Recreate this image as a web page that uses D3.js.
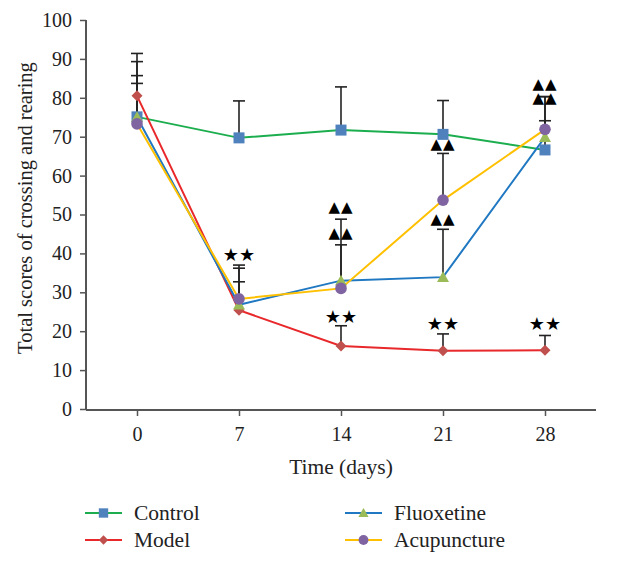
<!DOCTYPE html>
<html>
<head>
<meta charset="utf-8">
<script src="https://cdn.jsdelivr.net/npm/d3@7"></script>
<style>
  html, body { margin: 0; padding: 0; background: #fff; }
  svg text { font-family: "Liberation Serif", "Times New Roman", serif; }
</style>
</head>
<body>
<svg id="chart" width="627" height="565"></svg>
<script>
// ---- data ----
const days = [0, 7, 14, 21, 28];
const yTicks = [0, 10, 20, 30, 40, 50, 60, 70, 80, 90, 100];
const seriesNames = ["Control", "Model", "Fluoxetine", "Acupuncture"];
const controlMean = [75.1, 69.7, 71.7, 70.6, 66.6];
const controlSD   = [10.6, 9.5, 11.1, 8.7, 7.5];
const modelMean   = [80.5, 25.4, 16.2, 15.0, 15.1];
const modelSD     = [10.9, 7.3, 5.2, 4.3, 3.8];
const fluoMean    = [75.0, 26.8, 33.0, 33.9, 69.9];
const fluoSD      = [14.3, 9.4, 9.2, 12.3, 10.4];
const acuMean     = [73.3, 28.3, 31.0, 53.7, 71.9];
const acuSD       = [10.4, 8.7, 17.8, 12.0, 8.4];
// significance marks: [day, y-value, symbol]
const starMarks = [[7, 39.8, "★★"], [14, 23.9, "★★"], [21, 22.1, "★★"], [28, 22.1, "★★"]];
const triMarks = [[14, 51.9, "▲▲"], [14, 45.2, "▲▲"], [21, 68.1, "▲▲"], [21, 48.8, "▲▲"], [28, 83.6, "▲▲"], [28, 80.0, "▲▲"]];

(function () {
// ---- styles ----
const styles = {
  Control:     { line: "#1cae4e", fill: "#4f81bd", shape: "square" },
  Model:       { line: "#e8282b", fill: "#c0504d", shape: "diamond" },
  Fluoxetine:  { line: "#1f78c1", fill: "#9bbb59", shape: "triangle" },
  Acupuncture: { line: "#ffc000", fill: "#8064a2", shape: "circle" }
};
const series = [
  { name: "Control", mean: controlMean, sd: controlSD },
  { name: "Model", mean: modelMean, sd: modelSD },
  { name: "Fluoxetine", mean: fluoMean, sd: fluoSD },
  { name: "Acupuncture", mean: acuMean, sd: acuSD }
];

const svg = d3.select("#chart");
const pLeft = 86, pRight = 596, pTop = 20, pBottom = 409;
const x = d3.scaleLinear().domain([-3.5, 31.5]).range([pLeft, pRight]);
const y = d3.scaleLinear().domain([0, 100]).range([pBottom, pTop]);
const axisColor = "#555";

// axes
const xAxis = svg.append("g").attr("transform", `translate(0,${pBottom + 1})`)
  .call(d3.axisBottom(x).tickValues(days).tickSize(6).tickPadding(11).tickSizeOuter(0));
const yAxis = svg.append("g").attr("transform", `translate(${pLeft},0)`)
  .call(d3.axisLeft(y).tickValues(yTicks).tickSize(6).tickPadding(8).tickSizeOuter(0));
[xAxis, yAxis].forEach(g => {
  g.select(".domain").attr("stroke", axisColor).attr("stroke-width", 2);
  g.selectAll(".tick line").attr("stroke", axisColor).attr("stroke-width", 1.5);
  g.selectAll(".tick text").attr("fill", "#222").style("font-size", "20px")
    .style("font-family", "Liberation Serif, serif");
});
yAxis.select(".domain").attr("d", `M0,${pTop}V${pBottom + 1}`);
xAxis.select(".domain").attr("d", `M${pLeft},0H${pRight}`);

// axis titles
svg.append("text").attr("x", x(14)).attr("y", 474).attr("text-anchor", "middle")
  .attr("fill", "#222").style("font-size", "21.5px").text("Time (days)");
svg.append("text").attr("transform", `translate(32,${208}) rotate(-90)`)
  .attr("text-anchor", "middle").attr("fill", "#222").style("font-size", "20.5px")
  .text("Total scores of crossing and rearing");

// error bars
const capW = 6;
series.forEach(s => {
  const g = svg.append("g");
  days.forEach((d, i) => {
    if (!s.sd[i]) return;
    const x0 = x(d), yt = y(s.mean[i] + s.sd[i]), yb = y(s.mean[i]);
    g.append("line").attr("x1", x0).attr("x2", x0).attr("y1", yt).attr("y2", yb)
      .attr("stroke", "#222").attr("stroke-width", 1.6);
    g.append("line").attr("x1", x0 - capW).attr("x2", x0 + capW).attr("y1", yt).attr("y2", yt)
      .attr("stroke", "#222").attr("stroke-width", 1.6);
  });
});

// lines
const line = d3.line().x((d, i) => x(days[i])).y(d => y(d));
series.forEach(s => {
  svg.append("path").attr("d", line(s.mean)).attr("fill", "none")
    .attr("stroke", styles[s.name].line).attr("stroke-width", 2);
});

// markers
function marker(g, shape, fill, cx, cy, scale = 1) {
  if (shape === "square") {
    const h = 5.5 * scale;
    g.append("rect").attr("x", cx - h).attr("y", cy - h).attr("width", 2 * h).attr("height", 2 * h).attr("fill", fill);
  } else if (shape === "diamond") {
    const h = 5.5 * scale;
    g.append("path").attr("d", `M${cx},${cy - h}L${cx + h},${cy}L${cx},${cy + h}L${cx - h},${cy}Z`).attr("fill", fill);
  } else if (shape === "triangle") {
    const h = 6 * scale;
    g.append("path").attr("d", `M${cx},${cy - h}L${cx + h},${cy + h * 0.8}L${cx - h},${cy + h * 0.8}Z`).attr("fill", fill);
  } else {
    g.append("circle").attr("cx", cx).attr("cy", cy).attr("r", 5.8 * scale).attr("fill", fill);
  }
}
series.forEach(s => {
  const g = svg.append("g");
  days.forEach((d, i) => marker(g, styles[s.name].shape, styles[s.name].fill, x(d), y(s.mean[i])));
});

// significance marks
starMarks.forEach(m => {
  svg.append("text").attr("x", x(m[0])).attr("y", y(m[1])).attr("text-anchor", "middle")
    .attr("dominant-baseline", "central").attr("fill", "#000")
    .style("font-family", "DejaVu Sans, sans-serif").style("font-size", "18px")
    .style("letter-spacing", "0px").text(m[2]);
});
triMarks.forEach(m => {
  svg.append("text").attr("x", x(m[0])).attr("y", y(m[1])).attr("text-anchor", "middle")
    .attr("dominant-baseline", "central").attr("fill", "#000")
    .style("font-family", "DejaVu Sans, sans-serif").style("font-size", "15px")
    .style("letter-spacing", "1px").text(m[2]);
});

// legend
const legendItems = [
  { name: "Control", lx: 85, ly: 513 },
  { name: "Model", lx: 85, ly: 540 },
  { name: "Fluoxetine", lx: 345, ly: 513 },
  { name: "Acupuncture", lx: 345, ly: 540 }
];
legendItems.forEach(it => {
  const st = styles[it.name];
  const g = svg.append("g");
  g.append("line").attr("x1", it.lx).attr("x2", it.lx + 37).attr("y1", it.ly).attr("y2", it.ly)
    .attr("stroke", st.line).attr("stroke-width", 2);
  marker(g, st.shape, st.fill, it.lx + 18.5, it.ly, 0.85);
  g.append("text").attr("x", it.lx + 49).attr("y", it.ly + 7).attr("fill", "#222")
    .style("font-size", "21.5px").text(it.name);
});
})();
</script>
</body>
</html>
